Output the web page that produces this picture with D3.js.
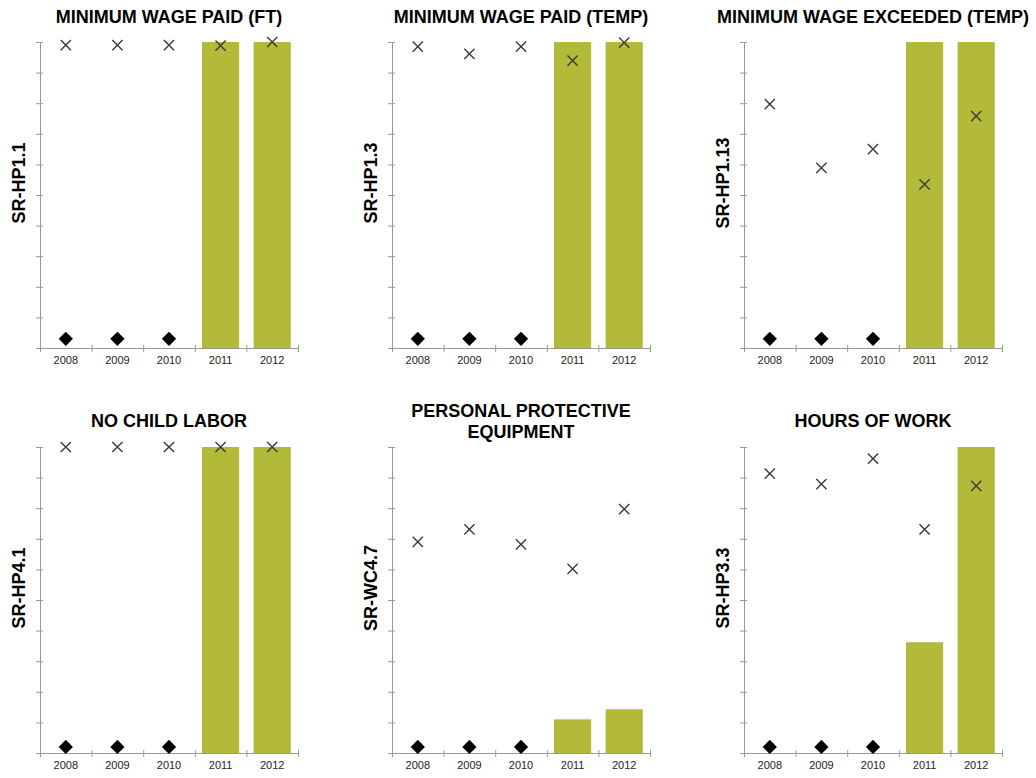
<!DOCTYPE html>
<html>
<head>
<meta charset="utf-8">
<script src="https://cdn.jsdelivr.net/npm/d3@7"></script>
<style>
  html, body { margin: 0; padding: 0; background: #fff; }
  svg { display: block; }
  text { font-family: "Liberation Sans", Arial, Helvetica, sans-serif; }
</style>
</head>
<body>
<svg id="chart" width="1036" height="778"></svg>
<script>
// ---------- data ----------
const years = ["2008", "2009", "2010", "2011", "2012"];
const yTicks = [0, 0.1, 0.2, 0.3, 0.4, 0.5, 0.6, 0.7, 0.8, 0.9, 1.0];

const titles = [
  ["MINIMUM WAGE PAID (FT)"],
  ["MINIMUM WAGE PAID (TEMP)"],
  ["MINIMUM WAGE EXCEEDED (TEMP)"],
  ["NO CHILD LABOR"],
  ["PERSONAL PROTECTIVE", "EQUIPMENT"],
  ["HOURS OF WORK"]
];
const yLabels = ["SR-HP1.1", "SR-HP1.3", "SR-HP1.13", "SR-HP4.1", "SR-WC4.7", "SR-HP3.3"];

// bar values (null = no bar)
const barValues = [
  [null, null, null, 1.0, 1.0],
  [null, null, null, 1.0, 1.0],
  [null, null, null, 1.0, 1.0],
  [null, null, null, 1.0, 1.0],
  [null, null, null, 0.110, 0.143],
  [null, null, null, 0.362, 1.0]
];
// cross (x) marker values
const crossValues = [
  [0.990, 0.990, 0.990, 0.988, 1.0],
  [0.985, 0.961, 0.985, 0.939, 0.998],
  [0.797, 0.589, 0.650, 0.535, 0.758],
  [1.0, 1.0, 1.0, 1.0, 1.0],
  [0.690, 0.731, 0.682, 0.602, 0.797],
  [0.913, 0.879, 0.962, 0.731, 0.873]
];
// diamond marker values
const diamondValues = [
  [0.03, 0.03, 0.03, null, null],
  [0.03, 0.03, 0.03, null, null],
  [0.03, 0.03, 0.03, null, null],
  [0.02, 0.02, 0.02, null, null],
  [0.02, 0.02, 0.02, null, null],
  [0.02, 0.02, 0.02, null, null]
];

// ---------- layout ----------
const colX = [40, 392, 744];
const plotW = 258;
const rowTop = [42, 447];
const plotH = 306;
const barColor = "#b3ba3a";
const axisColor = "#9a9a9a";

const svg = d3.select("#chart");

titles.forEach((title, i) => {
  const col = i % 3, row = Math.floor(i / 3);
  const x0 = colX[col], y0 = rowTop[row];
  const g = svg.append("g").attr("transform", `translate(${x0},${y0})`);

  const x = d3.scaleBand().domain(years).range([0, plotW]).padding(0);
  const xBar = d3.scaleBand().domain(years).range([0, plotW]).paddingInner(0.28).paddingOuter(0.14);
  const xEdge = d3.scaleLinear().domain([0, years.length]).range([0, plotW]);
  const y = d3.scaleLinear().domain([0, 1]).range([plotH, 0]);

  // bars
  g.selectAll("rect.bar")
    .data(years.map((yr, k) => ({ yr, v: barValues[i][k] })).filter(d => d.v != null))
    .join("rect")
    .attr("class", "bar")
    .attr("x", d => xBar(d.yr))
    .attr("width", xBar.bandwidth())
    .attr("y", d => y(d.v))
    .attr("height", d => y(0) - y(d.v))
    .attr("fill", barColor);

  // y axis
  const ya = g.append("g").call(d3.axisLeft(y).tickValues(yTicks).tickFormat("").tickSizeOuter(0));
  ya.select(".domain").attr("stroke", axisColor);
  ya.selectAll(".tick line").attr("stroke", axisColor).attr("x1", -4).attr("x2", 3);

  // x axis with edge ticks
  const xa = g.append("g").attr("transform", `translate(0,${plotH})`)
    .call(d3.axisBottom(xEdge).tickValues(d3.range(0, years.length + 1)).tickFormat("").tickSizeOuter(0));
  xa.select(".domain").attr("stroke", axisColor);
  xa.selectAll(".tick line").attr("stroke", axisColor).attr("y1", -3).attr("y2", 4);

  // x labels
  const xl = g.append("g").attr("transform", `translate(0,${plotH})`)
    .call(d3.axisBottom(x).tickSize(0).tickPadding(8));
  xl.select(".domain").remove();
  xl.selectAll("text").attr("font-size", 11).attr("fill", "#222")
    .attr("font-family", "'Liberation Sans', Arial, sans-serif");

  // diamonds
  const dsym = d3.symbol().type(d3.symbolDiamond2).size(130);
  g.selectAll("path.diamond")
    .data(years.map((yr, k) => ({ yr, v: diamondValues[i][k] })).filter(d => d.v != null))
    .join("path")
    .attr("class", "diamond")
    .attr("d", dsym)
    .attr("transform", d => `translate(${x(d.yr) + x.bandwidth() / 2},${y(d.v)})`)
    .attr("fill", "#000");

  // crosses
  const csym = d3.symbol().type(d3.symbolX).size(70);
  g.selectAll("path.cross")
    .data(years.map((yr, k) => ({ yr, v: crossValues[i][k] })).filter(d => d.v != null))
    .join("path")
    .attr("class", "cross")
    .attr("d", csym)
    .attr("transform", d => `translate(${x(d.yr) + x.bandwidth() / 2},${y(d.v)})`)
    .attr("fill", "none")
    .attr("stroke", "#3a3a3a")
    .attr("stroke-width", 1.4);

  // title
  const cx = plotW / 2;
  const baseY = row === 0 ? 23 - y0 : (title.length > 1 ? 417 - y0 : 427 - y0);
  const t = g.append("text")
    .attr("x", cx).attr("y", baseY)
    .attr("text-anchor", "middle")
    .attr("font-size", 18).attr("font-weight", "bold").attr("fill", "#000");
  title.forEach((line, li) => {
    t.append("tspan").attr("x", cx).attr("dy", li === 0 ? 0 : 21).text(line);
  });

  // y label
  g.append("text")
    .attr("transform", `translate(${-15},${plotH / 2 - 12}) rotate(-90)`)
    .attr("text-anchor", "middle")
    .attr("font-size", 18).attr("font-weight", "bold").attr("fill", "#000")
    .text(yLabels[i]);
});
</script>
</body>
</html>
